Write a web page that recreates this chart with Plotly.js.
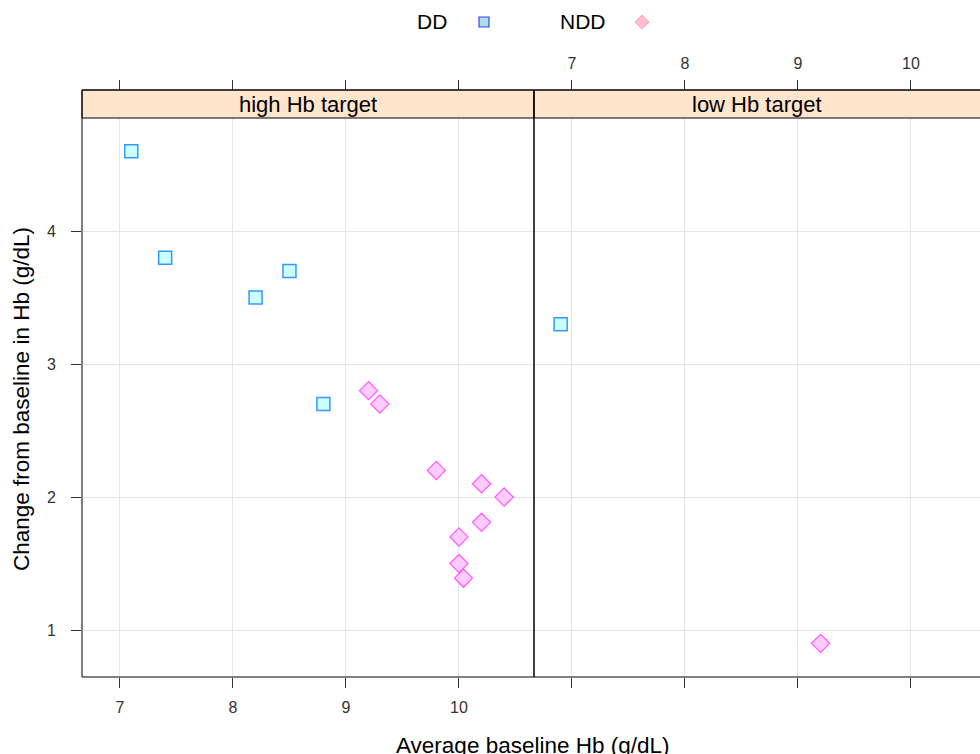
<!DOCTYPE html>
<html>
<head>
<meta charset="utf-8">
<script src="https://cdn.plot.ly/plotly-3.0.1.min.js"></script>
<style>html,body{margin:0;padding:0;background:#fff;}#chart{width:980px;height:754px;}</style>
</head>
<body>
<div id="chart"></div>
<script>
// ---- data ----
var panels = ["high Hb target", "low Hb target"];
var groups = ["DD", "NDD"];
var highDD_x = [7.1, 7.4, 8.2, 8.5, 8.8];
var highDD_y = [4.6, 3.8, 3.5, 3.7, 2.7];
var highNDD_x = [9.2, 9.3, 9.8, 10.2, 10.4, 10.2, 10.0, 10.0, 10.04];
var highNDD_y = [2.8, 2.7, 2.2, 2.1, 2.0, 1.81, 1.7, 1.5, 1.39];
var lowDD_x = [6.9];
var lowDD_y = [3.3];
var lowNDD_x = [9.2];
var lowNDD_y = [0.9];
var xTicks = [7, 8, 9, 10];
var yTicks = [1, 2, 3, 4];

// ---- style ----
var FONT = '"Liberation Sans", Arial, Helvetica, sans-serif';
var D = 452 / 898;          // split between panels (paper)
var Y = (677 - 118) / 587;  // top of plotting area (paper)
var xRangeL = [6.664, 10.664];
var xRangeR = [6.664, 10.611];
var yRange = [0.647, 4.85];

var ddFill = {symbol: 'square', size: 13, color: '#ccffff', line: {color: '#3399ff', width: 1.5}};
var nddFill = {symbol: 'diamond', size: 14, color: '#ffccff', line: {color: '#ff55ff', width: 1.2}};

function pts(x, y, xa, ya, marker, name) {
  return {type: 'scatter', mode: 'markers', x: x, y: y, xaxis: xa, yaxis: ya,
          marker: marker, name: name, showlegend: false, hoverinfo: 'x+y'};
}

var data = [
  pts(highDD_x, highDD_y, 'x', 'y', ddFill, groups[0]),
  pts(highNDD_x, highNDD_y, 'x', 'y', nddFill, groups[1]),
  pts(lowDD_x, lowDD_y, 'x2', 'y2', ddFill, groups[0]),
  pts(lowNDD_x, lowNDD_y, 'x2', 'y2', nddFill, groups[1]),
  // invisible anchors for the top tick axes
  {type: 'scatter', mode: 'markers', x: highDD_x, y: highDD_y, xaxis: 'x3', yaxis: 'y',
   marker: {opacity: 0}, showlegend: false, hoverinfo: 'skip'},
  {type: 'scatter', mode: 'markers', x: lowDD_x, y: lowDD_y, xaxis: 'x4', yaxis: 'y2',
   marker: {opacity: 0}, showlegend: false, hoverinfo: 'skip'}
];

var tickFont = {family: FONT, size: 16, color: '#333'};
var baseX = {
  tickmode: 'array', tickvals: xTicks, ticktext: xTicks.map(String),
  ticks: 'outside', ticklen: 10, tickwidth: 1, tickcolor: '#333',
  showgrid: true, gridcolor: '#e6e6e6', gridwidth: 1,
  zeroline: false, showline: false, tickfont: tickFont, fixedrange: true
};

function ext(o, extra) { var r = {}; for (var k in o) r[k] = o[k]; for (var k2 in extra) r[k2] = extra[k2]; return r; }

var layout = {
  width: 980, height: 754,
  margin: {l: 82, r: 0, t: 90, b: 77, pad: 0},
  paper_bgcolor: '#ffffff', plot_bgcolor: '#ffffff',
  font: {family: FONT, color: '#000'},
  showlegend: false,
  xaxis: ext(baseX, {domain: [0, D], range: xRangeL, anchor: 'y', ticklabelstandoff: 6}),
  xaxis2: ext(baseX, {domain: [D, 1], range: xRangeR, anchor: 'y2', showticklabels: false}),
  xaxis3: ext(baseX, {overlaying: 'x', side: 'top', anchor: 'free', position: 1,
                      range: xRangeL, showticklabels: false, showgrid: false}),
  xaxis4: ext(baseX, {overlaying: 'x2', side: 'top', anchor: 'free', position: 1,
                      range: xRangeR, showticklabels: true, showgrid: false, ticklabelstandoff: 5}),
  yaxis: {domain: [0, Y], range: yRange, anchor: 'x', tickmode: 'array', tickvals: yTicks,
          ticktext: yTicks.map(String), ticks: 'outside', ticklen: 10, tickcolor: '#333',
          showgrid: true, gridcolor: '#e6e6e6', zeroline: false, showline: false,
          tickfont: tickFont, ticklabelstandoff: 12, fixedrange: true},
  yaxis2: {domain: [0, Y], range: yRange, anchor: 'x2', tickmode: 'array', tickvals: yTicks,
           ticks: '', showticklabels: false, showgrid: true, gridcolor: '#e6e6e6',
           zeroline: false, showline: false, fixedrange: true},
  shapes: [
    // strips
    {type: 'rect', xref: 'paper', yref: 'paper', x0: 0, x1: D, y0: Y, y1: 1,
     fillcolor: '#ffe5cc', line: {color: '#000', width: 1}, layer: 'above'},
    {type: 'rect', xref: 'paper', yref: 'paper', x0: D, x1: 1.05, y0: Y, y1: 1,
     fillcolor: '#ffe5cc', line: {color: '#000', width: 1}, layer: 'above'},
    // panel borders
    {type: 'rect', xref: 'paper', yref: 'paper', x0: 0, x1: D, y0: 0, y1: 1,
     line: {color: '#000', width: 1}, layer: 'above'},
    {type: 'rect', xref: 'paper', yref: 'paper', x0: D, x1: 1.05, y0: 0, y1: 1,
     line: {color: '#000', width: 1}, layer: 'above'},
    // legend keys
    {type: 'rect', xref: 'paper', yref: 'paper', xsizemode: 'pixel', ysizemode: 'pixel',
     xanchor: (484 - 82) / 898, yanchor: (677 - 22) / 587, x0: -5, x1: 5, y0: -5, y1: 5,
     fillcolor: '#b0dde6', line: {color: '#3344ff', width: 1.2}},
    {type: 'path', xref: 'paper', yref: 'paper', xsizemode: 'pixel', ysizemode: 'pixel',
     xanchor: (642 - 82) / 898, yanchor: (677 - 22) / 587,
     path: 'M 0 -7 L 7 0 L 0 7 L -7 0 Z',
     fillcolor: '#ffc0cb', line: {color: '#ff99bb', width: 1}}
  ],
  annotations: [
    {text: panels[0], xref: 'paper', yref: 'paper', x: 0.2517, y: (677 - 104) / 587,
     showarrow: false, xanchor: 'center', yanchor: 'middle', font: {family: FONT, size: 22, color: '#000'}},
    {text: panels[1], xref: 'paper', yref: 'paper', x: (757 - 82) / 898, y: (677 - 104) / 587,
     showarrow: false, xanchor: 'center', yanchor: 'middle', font: {family: FONT, size: 22, color: '#000'}},
    {text: groups[0], xref: 'paper', yref: 'paper', x: (432 - 82) / 898, y: (677 - 22) / 587,
     showarrow: false, xanchor: 'center', yanchor: 'middle', font: {family: FONT, size: 21, color: '#000'}},
    {text: groups[1], xref: 'paper', yref: 'paper', x: (583 - 82) / 898, y: (677 - 22) / 587,
     showarrow: false, xanchor: 'center', yanchor: 'middle', font: {family: FONT, size: 21, color: '#000'}},
    {text: 'Average baseline Hb (g/dL)', xref: 'paper', yref: 'paper', x: (533 - 82) / 898, y: (677 - 745) / 587,
     showarrow: false, xanchor: 'center', yanchor: 'middle', font: {family: FONT, size: 22.5, color: '#000'}},
    {text: 'Change from baseline in Hb (g/dL)', xref: 'paper', yref: 'paper', x: (21 - 82) / 898, y: (677 - 399) / 587,
     textangle: -90, showarrow: false, xanchor: 'center', yanchor: 'middle', font: {family: FONT, size: 22.5, color: '#000'}}
  ]
};

Plotly.newPlot('chart', data, layout, {displayModeBar: false, staticPlot: true});
</script>
</body>
</html>
